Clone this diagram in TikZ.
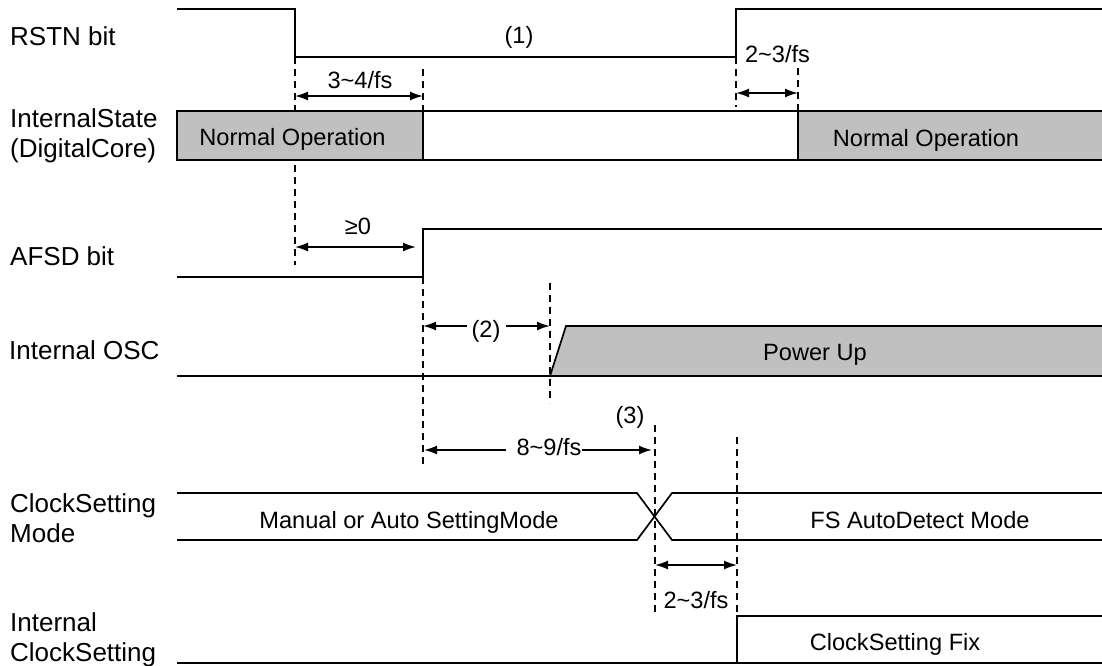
\documentclass[tikz,border=0pt]{standalone}
\usepackage{fontspec}
\setmainfont{Liberation Sans}
\usetikzlibrary{arrows.meta,calc}
\definecolor{boxgray}{HTML}{C0C0C0}
\begin{document}
\begin{tikzpicture}[x=1pt,y=-1pt,
  sig/.style={line width=1.7pt, line join=miter},
  guide/.style={line width=1.2pt, dash pattern=on 7pt off 5pt},
  dim/.style={line width=1.7pt, {Latex[length=13pt,width=9pt]}-{Latex[length=13pt,width=9pt]}},
  dimr/.style={line width=1.7pt, -{Latex[length=13pt,width=9pt]}},
  lbl/.style={anchor=base west, inner sep=0pt, font=\fontsize{26}{30}\selectfont},
  txt/.style={anchor=base, inner sep=0pt, font=\fontsize{23.6}{28}\selectfont},
  ptxt/.style={anchor=center, inner sep=0pt, font=\fontsize{23.6}{28}\selectfont}
]
\useasboundingbox (0,0) rectangle (1102,665);

% ---- row labels
\node[lbl] (lRSTN) at (10,45) {RSTN bit};
\node[lbl] (lIS1) at (10,127) {InternalState};
\node[lbl] (lIS2) at (10,157) {(DigitalCore)};
\node[lbl] (lAFSD) at (10,265) {AFSD bit};
\node[lbl] (lOSC) at (9,359) {Internal OSC};
\node[lbl] (lCS1) at (10,512) {ClockSetting};
\node[lbl] (lCS2) at (10,542) {Mode};
\node[lbl] (lICS1) at (10,631) {Internal};
\node[lbl] (lICS2) at (10,661) {ClockSetting};

% ---- guide lines (behind the waveforms)
\draw[guide] (295,57) -- (295,265);
\draw[guide] (423,69) -- (423,111);
\draw[guide] (423,277) -- (423,466);
\draw[guide] (736,57) -- (736,107);
\draw[guide] (798,68) -- (798,111);
\draw[guide] (550,283) -- (550,403);
\draw[guide] (655,425) -- (655,616);
\draw[guide] (737,437) -- (737,616);

% ---- RSTN bit
\draw[sig] (177,9) -- (295,9) -- (295,57) -- (736,57) -- (736,9) -- (1102,9);
\node[ptxt] (n1) at (519,37.5) {(1)};

% ---- InternalState
\fill[boxgray] (177,111) rectangle (423,160);
\fill[boxgray] (798,111) rectangle (1102,160);
\draw[sig] (1102,111) -- (177,111) -- (177,160) -- (1102,160);
\draw[sig] (423,111) -- (423,160);
\draw[sig] (798,111) -- (798,160);
\node[txt] (no1) at (292.5,145) {Normal Operation};
\node[txt] (no2) at (926,146.5) {Normal Operation};

% ---- AFSD bit
\draw[sig] (177,277) -- (423,277) -- (423,229) -- (1102,229);

% ---- Internal OSC
\fill[boxgray] (550,376) -- (566,326) -- (1102,326) -- (1102,376) -- cycle;
\draw[sig] (177,376) -- (1102,376);
\draw[sig] (550,376) -- (566,326) -- (1102,326);
\node[txt] (pu) at (815,360) {Power Up};

% ---- ClockSetting Mode
\draw[sig] (177,493) -- (637,493) -- (672,540) -- (1102,540);
\draw[sig] (177,540) -- (637,540) -- (672,493) -- (1102,493);
\node[txt] (man) at (409,528) {Manual or Auto SettingMode};
\node[txt] (fsa) at (920,528) {FS AutoDetect Mode};

% ---- Internal ClockSetting
\draw[sig] (177,663) -- (1102,663);
\draw[sig] (737,663) -- (737,616) -- (1102,616);
\node[txt] (csf) at (895,650) {ClockSetting Fix};

% ---- dimension arrows
\coordinate (d1a) at (295,96);  \coordinate (d1b) at (423,96);
\draw[dim] (d1a) -- (d1b);
\node[txt] (t34) at (360,88) {3\textasciitilde 4/fs};

\coordinate (d2a) at (736,93);  \coordinate (d2b) at (798,93);
\draw[dim] (d2a) -- (d2b);
\node[txt] (t23a) at (777.5,62) {2\textasciitilde 3/fs};

\coordinate (d3a) at (295,247); \coordinate (d3b) at (416,247);
\draw[dim] (d3a) -- (d3b);
\node[txt] (tge) at (358,234) {≥0};

\coordinate (d4a) at (423,326); \coordinate (d4b) at (550,326);
\node[ptxt] (t2) at (486,331) {(2)};
\coordinate (t2w) at ($(t2.west)+(-4,0)$);
\coordinate (t2e) at ($(t2.east)+(5,0)$);
\draw[dimr] (t2w |- d4a) -- (d4a);
\draw[dimr] (t2e |- d4b) -- (d4b);

\coordinate (d5a) at (424,450); \coordinate (d5b) at (652,450);
\node[txt] (t89) at (549,455) {8\textasciitilde 9/fs};
\coordinate (t89w) at ($(t89.west)+(-10,0)$);
\draw[dimr] (t89w |- d5a) -- (d5a);
\draw[dimr] (t89.east |- d5b) -- (d5b);
\node[ptxt] (t3) at (630,417) {(3)};

\coordinate (d6a) at (655,565); \coordinate (d6b) at (737,565);
\draw[dim] (d6a) -- (d6b);
\node[txt] (t23b) at (696,608) {2\textasciitilde 3/fs};
\end{tikzpicture}
\end{document}
